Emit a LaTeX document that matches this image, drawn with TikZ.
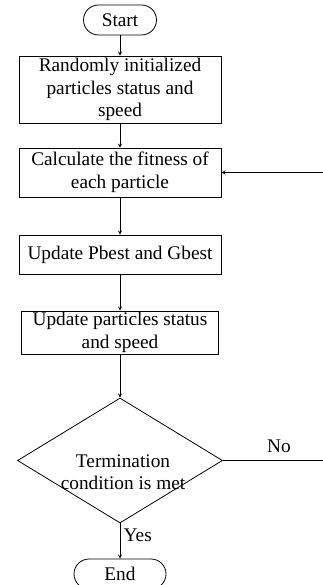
\documentclass[tikz,border=0pt]{standalone}
\usepackage{fontspec}
\setmainfont{Liberation Serif}
\usetikzlibrary{shapes.geometric, arrows}
\tikzstyle{startstop} = [rectangle, rounded corners=15pt, minimum width=73pt, minimum height=30pt, inner sep=0, text centered, draw=black]
\tikzstyle{process} = [rectangle, minimum width=202pt, inner sep=0, align=center, draw=black]
\tikzstyle{decision} = [diamond, minimum width=205pt, minimum height=125pt, inner sep=0, draw=black]
\tikzstyle{arrow} = [->,>=stealth]

\begin{document}
\begin{tikzpicture}[x=1pt,y=-1pt,line width=0.8pt,font=\fontsize{19.3}{22.5}\selectfont]
\useasboundingbox (0,0) rectangle (323,585);

\node[startstop] (start) at (120,20) {Start};
\node[process, minimum height=67pt] (init) at (120,89.5) {Randomly initialized\\particles status and\\speed};
\node[process, minimum height=49pt] (calc) at (120,172.5) {Calculate the fitness of\\each particle};
\node[process, minimum height=39pt] (best) at (120,254.5) {Update Pbest and Gbest};
\node[process, minimum width=197pt, minimum height=43pt] (upd) at (120,332.5) {Update particles status\\and speed};
\node[decision] (term) at (120,460.5) {};
\node[align=center] (termtext) at (123,472) {Termination\\condition is met};
\node[startstop, minimum width=92pt, minimum height=30pt, inner ysep=0pt] (stop) at (120,574) {End};

\draw[arrow] (start) -- (init);
\draw[arrow] (init) -- (calc);
\draw[arrow] (calc) -- (best);
\draw[arrow] (best) -- (upd);
\draw[arrow] (upd) -- (term);
\draw[arrow] (term) -- node[right, pos=0.35] (yes) {Yes} (stop);

% loop back when not finished
\coordinate (loop) at (335,460.5);
\draw[arrow] (term.east) -- node[above=4pt] (no) {No} (loop) |- (calc);
\end{tikzpicture}
\end{document}
